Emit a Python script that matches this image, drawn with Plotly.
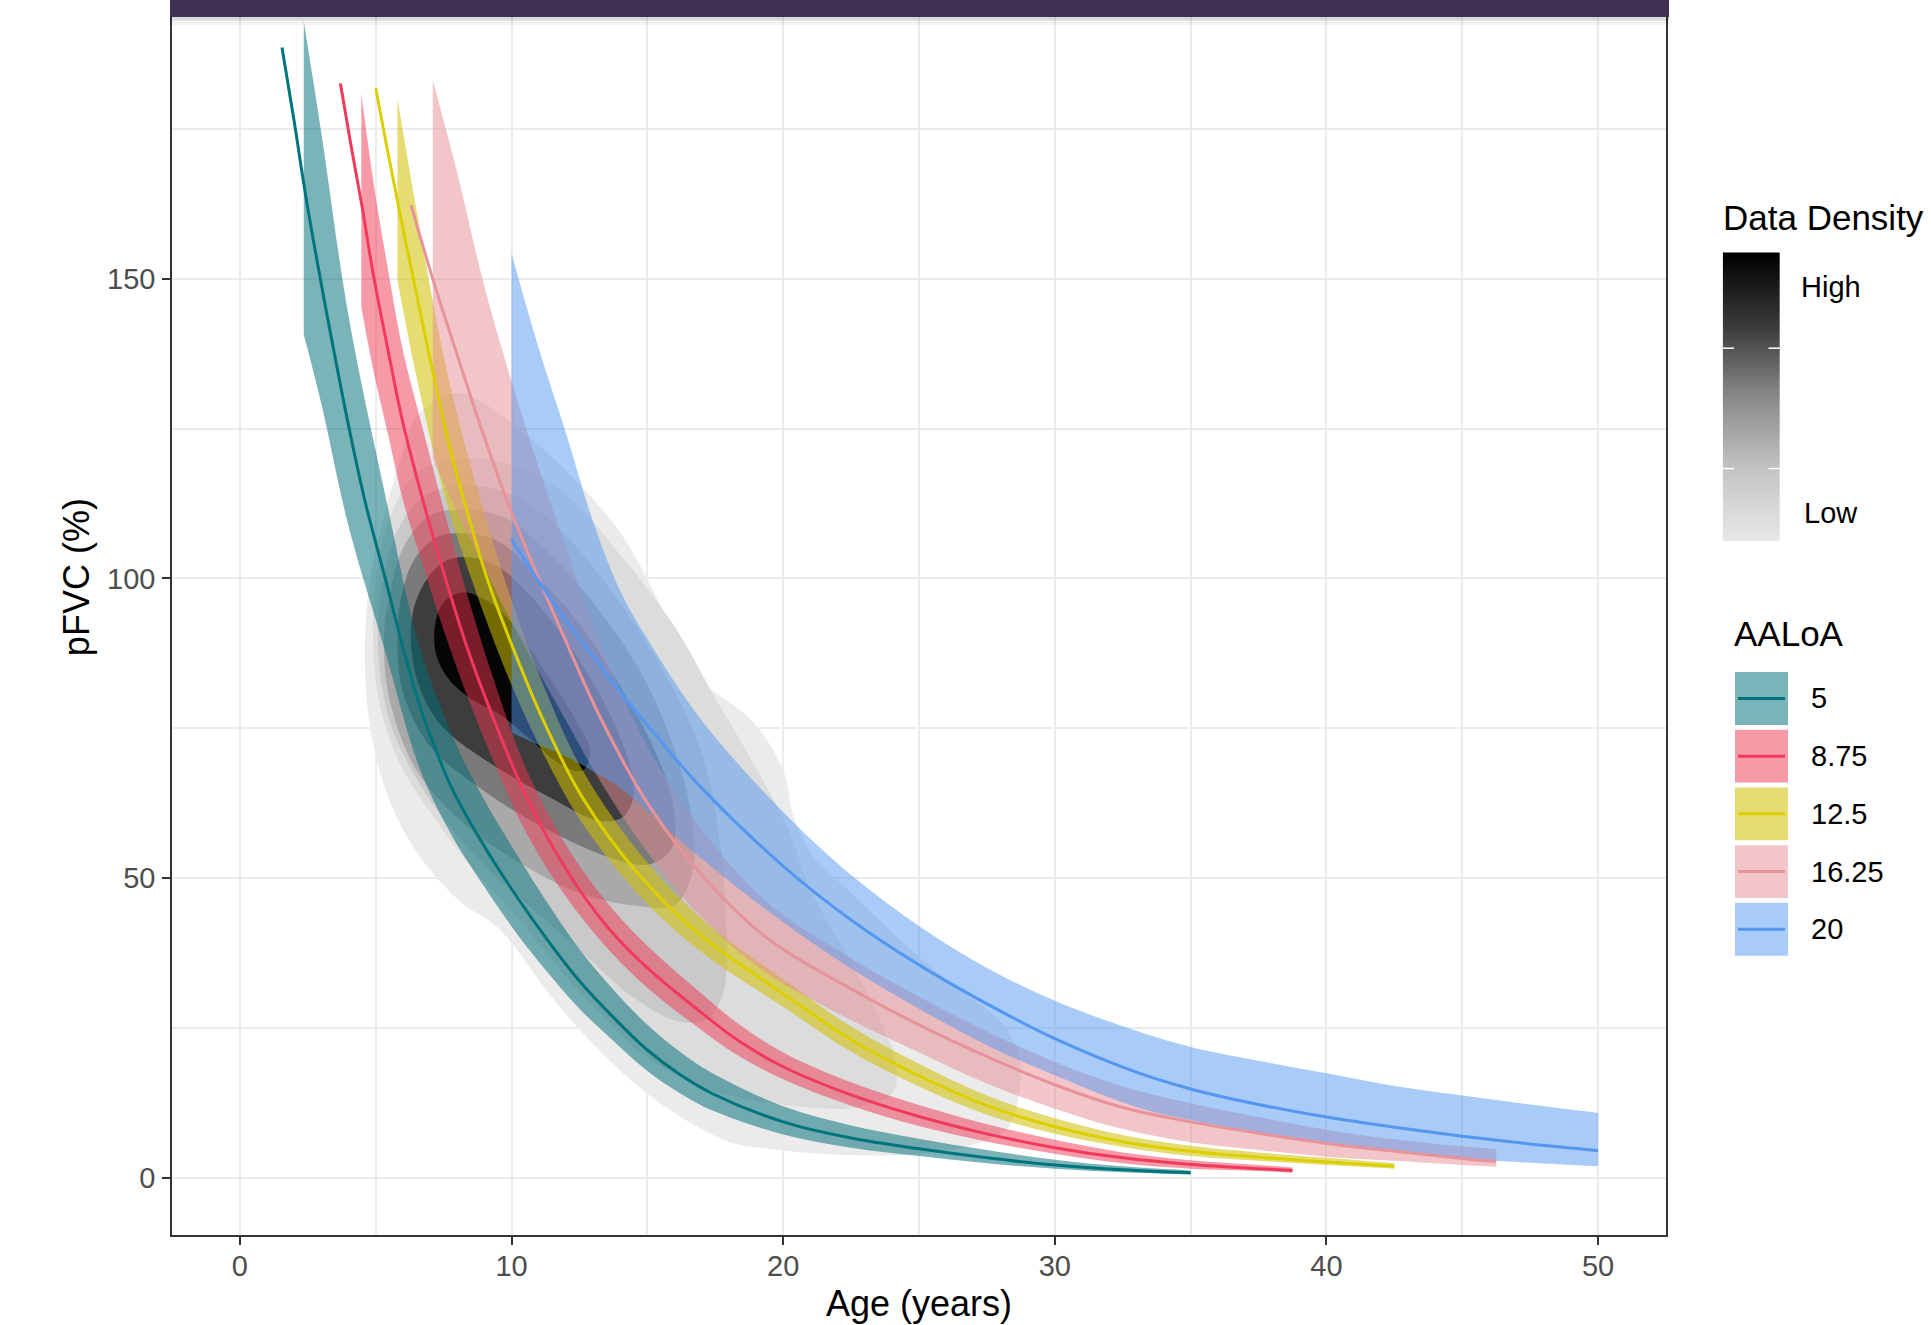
import plotly.graph_objects as go

# ---------------- data ----------------
aaloa_labels = ["5", "8.75", "12.5", "16.25", "20"]

# fitted pFVC lines (Age in years, pFVC in %)
teal_line_x = [1.55, 2.0, 2.4, 2.9, 3.5, 4.0, 4.6, 5.35, 6.0, 6.6, 7.2, 7.8, 8.9, 10.1, 11.3, 12.5, 13.8, 15.0, 16.2, 17.4, 20, 22.5, 25, 27.5, 30, 32.5, 35]
teal_line_y = [188.6, 176.2, 164.5, 151.5, 137, 125.5, 113, 100, 88.5, 79, 71.5, 65, 56, 47.5, 39.8, 32.8, 26.5, 21.3, 17.2, 14.0, 9.3, 6.6, 4.8, 3.3, 2.1, 1.3, 0.8]

red_line_x = [3.7, 4.1, 4.5, 4.9, 5.5, 6.0, 6.8, 7.5, 8.4, 9.3, 10.5, 12, 13.5, 15, 17, 18.4, 20, 22.5, 25, 27.5, 30, 32.5, 35, 37.5, 38.75]
red_line_y = [182.6, 172, 162, 151, 137, 126, 112, 101, 88, 77, 64, 51.5, 42, 35, 27.5, 22.7, 18.5, 13.8, 10.2, 7.3, 5.0, 3.3, 2.2, 1.5, 1.2]

yellow_line_x = [5.0, 5.43, 5.8, 6.11, 6.5, 7.1, 7.72, 8.5, 9.1, 10, 11.2, 12.6, 14.7, 17, 20, 22.5, 25, 27.5, 30, 32.5, 35, 37.5, 40, 42.5]
yellow_line_y = [181.8, 171.5, 163, 156, 147.5, 134.5, 122, 109, 100, 89, 76, 63.5, 50.5, 40.3, 30.7, 23, 17, 12, 8.5, 6.0, 4.4, 3.4, 2.6, 1.9]

pink_line_x = [6.3, 7.1, 8.0, 9.0, 10.0, 11.0, 12.0, 13.3, 15, 17.1, 19.4, 22.5, 25, 27.5, 30, 32.5, 35, 37.5, 40, 42.5, 45, 46.25]
pink_line_y = [162.3, 150, 137.3, 123.5, 111, 100, 89.5, 76.5, 62.5, 50, 40, 31.5, 25.5, 20.2, 15.5, 11.7, 9.3, 7.4, 5.7, 4.4, 3.2, 2.7]

blue_line_x = [10, 11, 12, 13, 14, 15, 17, 20, 22.5, 25, 27.5, 30, 33, 35, 37.5, 40, 42.5, 45, 47.5, 50]
blue_line_y = [106.5, 99.5, 93, 87, 81, 75.5, 65, 52, 43, 35.5, 29, 23.2, 17.6, 14.8, 12.2, 10.1, 8.4, 6.9, 5.6, 4.5]

# confidence ribbons
teal_rib_x = [2.35, 3.0, 4.0, 5.35, 6.6, 7.8, 8.9, 10.1, 11.3, 12.5, 13.8, 15.0, 16.2, 17.4, 20, 22.5, 25, 27.5, 30, 32.5, 35]
teal_rib_lo = [140.7, 129.1, 108.7, 87.8, 68.5, 57.1, 49.2, 41.3, 34.4, 28.2, 22.6, 17.8, 14.1, 11.2, 7.2, 5.0, 3.6, 2.4, 1.5, 0.9, 0.5]
teal_rib_hi = [193.0, 174.3, 143.8, 113.9, 88.8, 74.0, 63.8, 54.6, 46.0, 38.1, 31.1, 25.5, 21.0, 17.4, 11.9, 8.7, 6.5, 4.6, 3.0, 1.9, 1.2]

red_rib_x = [4.47, 4.9, 5.5, 6.0, 6.8, 7.5, 8.4, 9.3, 10.5, 12, 13.5, 15, 17, 18.4, 20, 22.5, 25, 27.5, 30, 32.5, 35, 37.5, 38.75]
red_rib_lo = [145.3, 135.0, 123.1, 113.1, 101.3, 91.4, 80.0, 69.9, 57.9, 46.9, 38.4, 31.7, 24.6, 20.2, 16.4, 12.0, 8.6, 6.0, 4.0, 2.4, 1.5, 1.1, 0.8]
red_rib_hi = [181.0, 166.6, 150.3, 138.1, 123.8, 111.6, 96.8, 83.7, 68.6, 55.5, 46.0, 38.7, 30.7, 25.5, 20.9, 15.9, 12.1, 8.9, 6.3, 4.2, 2.9, 2.1, 1.7]

yellow_rib_x = [5.8, 6.5, 7.5, 8.5, 10, 11.2, 12.6, 14.7, 17, 20, 22.5, 25, 27.5, 30, 32.5, 35, 37.5, 40, 42.5]
yellow_rib_lo = [149.7, 133.6, 114.5, 100.2, 82.2, 70.5, 59.2, 47.1, 37.6, 28.5, 21.0, 15.2, 10.5, 7.3, 5.1, 3.6, 2.8, 2.1, 1.5]
yellow_rib_hi = [180.1, 161.5, 137.1, 118.7, 96.4, 81.9, 68.1, 54.2, 43.2, 33.1, 25.2, 19.0, 13.7, 9.9, 7.1, 5.3, 4.2, 3.3, 2.4]

pink_rib_x = [7.1, 8, 9, 10, 11, 12, 13.3, 15, 17.1, 19.4, 22.5, 25, 27.5, 30, 32.5, 35, 37.5, 40, 42.5, 45, 46.25]
pink_rib_lo = [120.0, 111.0, 101.7, 92.7, 84.4, 76.3, 65.9, 54.3, 43.0, 34.1, 26.3, 20.9, 15.7, 11.5, 8.1, 5.9, 4.6, 3.5, 2.8, 2.1, 1.8]
pink_rib_hi = [183.2, 167.7, 148.7, 132.9, 118.5, 105.1, 88.9, 71.9, 57.5, 46.0, 36.6, 30.2, 24.4, 19.3, 15.2, 12.4, 10.1, 8.0, 6.4, 5.2, 4.8]

blue_rib_x = [10, 11, 12, 13, 14, 15, 17, 20, 22.5, 25, 27.5, 30, 33, 35, 37.5, 40, 42.5, 45, 47.5, 50]
blue_rib_lo = [74.3, 72.2, 70.3, 67.8, 65.0, 61.2, 53.2, 42.6, 34.9, 28.2, 22.1, 17.1, 11.8, 9.6, 7.4, 5.7, 4.3, 3.2, 2.5, 1.9]
blue_rib_hi = [154.2, 138.4, 124.3, 109.5, 97.9, 89.9, 76.3, 61.0, 50.5, 42.0, 35.0, 29.5, 24.5, 21.8, 19.5, 17.4, 15.3, 13.7, 12.2, 10.8]

# data-density contour bands (outer -> inner)
dens1_x = [6.5, 8.0, 10, 12, 14.1, 16.2, 17, 18.9, 20, 20.4, 21.2, 22.4, 24, 26, 28, 28.7, 28.6, 28.2, 27, 25, 22, 19.5, 18, 15.6, 13.5, 11.5, 9.5, 8.1, 6.5, 5.5, 4.8, 4.6, 4.8, 5.4, 6.0]
dens1_y = [127, 131, 126, 118, 107, 89, 83, 76, 68, 60, 53, 48, 41, 33, 26, 20, 12, 8, 5.5, 4, 3.8, 4.8, 6, 12, 20, 30, 41.7, 46.1, 54.4, 63, 75, 88, 100, 112, 121]
dens2_x = [5.0, 5.5, 6.5, 8, 10, 12, 14, 16, 17.5, 18.8, 20.2, 21, 22.5, 23.7, 24.2, 24, 23, 22, 19.5, 17.4, 15, 12.5, 10.1, 8.5, 7, 5.8, 5.1, 4.9]
dens2_y = [100, 110, 117.5, 120, 119, 114, 104, 92, 80, 70, 58, 48, 36, 25, 18, 14, 12, 11.5, 12.5, 14.5, 20, 31, 44, 52, 61, 70, 80, 90]
dens3_x = [5.2, 5.7, 6.7, 8.2, 10, 11.6, 13.5, 15.4, 17, 17.7, 17.9, 17.8, 17.2, 16.2, 14.5, 12.5, 10.5, 8.6, 7, 5.6, 5.1]
dens3_y = [98, 107, 113.5, 115.5, 114, 109, 99, 86, 71, 55, 42, 31, 26.5, 26, 30, 38, 46, 54, 63, 75, 87]
dens4_x = [5.5, 6.0, 7.0, 8.3, 9.8, 11.2, 13, 14.8, 16.1, 16.7, 16.6, 16.0, 14.5, 12.5, 10.5, 8.4, 6.5, 5.5, 5.3]
dens4_y = [97, 105, 110.5, 111.5, 110, 105, 96, 84, 70, 58, 50, 45.5, 45.4, 47.5, 52, 58.5, 68, 80, 90]
dens5_x = [5.9, 6.4, 7.3, 8.4, 9.6, 10.8, 12.4, 14.0, 15.4, 16.0, 15.9, 15.1, 13.9, 11.4, 9.0, 7.0, 6.0, 5.8]
dens5_y = [96, 103, 107, 107.5, 106, 101, 93, 82, 70, 61, 55, 52.3, 53, 57.9, 64.5, 72, 81, 89]
dens6_x = [6.4, 6.9, 7.6, 8.5, 9.5, 10.5, 11.8, 13.2, 14.2, 14.5, 14.1, 13.2, 11.4, 9.0, 7.4, 6.6, 6.3]
dens6_y = [95, 100, 103, 103.5, 102, 98, 91, 81, 71, 64, 60.2, 59.6, 63.5, 69.8, 75.5, 82, 89]
dens7_x = [7.2, 7.5, 8.2, 9.0, 9.8, 11.1, 12.4, 12.9, 12.6, 11.8, 10.7, 9.6, 8.4, 7.6, 7.2]
dens7_y = [92.6, 96.0, 97.7, 96.5, 93.6, 85.4, 76.1, 71.0, 67.9, 69.0, 73.1, 77.2, 80.2, 83.7, 87.8]

x_ticks = [0, 10, 20, 30, 40, 50]
y_ticks = [0, 50, 100, 150]

# ---------------- styling ----------------
W, H = 1931, 1325
FONT = "Liberation Sans, Arial, Helvetica, sans-serif"
line_colors = ["#00747c", "#f03a5c", "#dccf00", "#e8939a", "#5597f0"]
ribbon_colors = ["rgba(0,111,121,0.52)", "rgba(239,53,81,0.5)", "rgba(207,193,0,0.55)",
                 "rgba(229,139,145,0.5)", "rgba(83,151,239,0.5)"]
dens_colors = ["#ebebeb", "#dcdcdc", "#c9c9c9", "#a9a9a9", "#7a7a7a", "#3d3d3d", "#050505"]


def pxx(px):
    return px / W


def pxy(py):
    return 1 - py / H


fig = go.Figure()

# density bands
dens_sets = [(dens1_x, dens1_y), (dens2_x, dens2_y), (dens3_x, dens3_y), (dens4_x, dens4_y),
             (dens5_x, dens5_y), (dens6_x, dens6_y), (dens7_x, dens7_y)]
for (dx, dy), col in zip(dens_sets, dens_colors):
    fig.add_trace(go.Scatter(x=dx + dx[:1], y=dy + dy[:1], mode="lines", fill="toself",
                             fillcolor=col, line=dict(width=0, shape="spline", smoothing=1.0),
                             hoverinfo="skip", showlegend=False))

# ribbons
ribbons = [(teal_rib_x, teal_rib_lo, teal_rib_hi), (red_rib_x, red_rib_lo, red_rib_hi),
           (yellow_rib_x, yellow_rib_lo, yellow_rib_hi), (pink_rib_x, pink_rib_lo, pink_rib_hi),
           (blue_rib_x, blue_rib_lo, blue_rib_hi)]
for (rx, lo, hi), col in zip(ribbons, ribbon_colors):
    fig.add_trace(go.Scatter(x=rx, y=lo, mode="lines", line=dict(width=0, shape="spline"),
                             hoverinfo="skip", showlegend=False))
    fig.add_trace(go.Scatter(x=rx, y=hi, mode="lines", fill="tonexty", fillcolor=col,
                             line=dict(width=0, shape="spline"), hoverinfo="skip", showlegend=False))

# lines
lines = [(teal_line_x, teal_line_y), (red_line_x, red_line_y), (yellow_line_x, yellow_line_y),
         (pink_line_x, pink_line_y), (blue_line_x, blue_line_y)]
for (lx, ly), col, name in zip(lines, line_colors, aaloa_labels):
    fig.add_trace(go.Scatter(x=lx, y=ly, mode="lines", name=name,
                             line=dict(color=col, width=3.0, shape="spline"), showlegend=False))

# density colour bar (legend gradient) on its own small axes
fig.add_trace(go.Heatmap(z=[[0, 0], [1, 1]], x=[0, 1], y=[0, 1], zsmooth="best",
                         colorscale=[[0, "#e9e9e9"], [0.25, "#c4c4c4"], [0.5, "#8a8a8a"],
                                     [0.75, "#3a3a3a"], [1, "#000000"]],
                         showscale=False, hoverinfo="skip", xaxis="x2", yaxis="y2"))

shapes = []
annotations = []

# title banner at the top
shapes.append(dict(type="rect", xref="paper", yref="paper", x0=pxx(170), x1=pxx(1669),
                   y0=pxy(23), y1=pxy(15), fillcolor="rgba(0,0,0,0.05)", line=dict(width=0), layer="above"))
shapes.append(dict(type="rect", xref="paper", yref="paper", x0=pxx(170), x1=pxx(1669),
                   y0=pxy(18.5), y1=pxy(15), fillcolor="rgba(0,0,0,0.10)", line=dict(width=0), layer="above"))
shapes.append(dict(type="rect", xref="paper", yref="paper", x0=pxx(170), x1=pxx(1669),
                   y0=pxy(15), y1=pxy(-2), fillcolor="#3f3152", line=dict(width=0), layer="above"))

# colour bar white ticks
for ty in (346.7, 467.3):
    for (a, b) in ((1722.7, 1734), (1768.5, 1780)):
        shapes.append(dict(type="line", xref="paper", yref="paper", x0=pxx(a), x1=pxx(b),
                           y0=pxy(ty), y1=pxy(ty), line=dict(color="white", width=1.5), layer="above"))

annotations.append(dict(text="Data Density", x=pxx(1721), y=pxy(216), xref="paper", yref="paper",
                        xanchor="left", yanchor="middle", showarrow=False,
                        font=dict(family=FONT, size=35, color="black")))
annotations.append(dict(text="High", x=pxx(1799), y=pxy(285), xref="paper", yref="paper",
                        xanchor="left", yanchor="middle", showarrow=False,
                        font=dict(family=FONT, size=29, color="black")))
annotations.append(dict(text="Low", x=pxx(1802), y=pxy(512), xref="paper", yref="paper",
                        xanchor="left", yanchor="middle", showarrow=False,
                        font=dict(family=FONT, size=29, color="black")))

# AALoA legend
annotations.append(dict(text="AALoA", x=pxx(1732), y=pxy(632), xref="paper", yref="paper",
                        xanchor="left", yanchor="middle", showarrow=False,
                        font=dict(family=FONT, size=35, color="black")))
key_top, key_step, key_size = 671, 57.8, 53
for i, (name, lc, rc) in enumerate(zip(aaloa_labels, line_colors, ribbon_colors)):
    t = key_top + i * key_step
    shapes.append(dict(type="rect", xref="paper", yref="paper", x0=pxx(1735), x1=pxx(1735 + key_size),
                       y0=pxy(t + key_size), y1=pxy(t), fillcolor=rc, line=dict(width=0), layer="above"))
    cy = t + key_size / 2
    shapes.append(dict(type="line", xref="paper", yref="paper", x0=pxx(1738), x1=pxx(1785),
                       y0=pxy(cy), y1=pxy(cy), line=dict(color=lc, width=3), layer="above"))
    annotations.append(dict(text=name, x=pxx(1809), y=pxy(cy), xref="paper", yref="paper",
                            xanchor="left", yanchor="middle", showarrow=False,
                            font=dict(family=FONT, size=29, color="black")))

# axis titles
annotations.append(dict(text="Age (years)", x=pxx(919), y=pxy(1303), xref="paper", yref="paper",
                        xanchor="center", yanchor="middle", showarrow=False,
                        font=dict(family=FONT, size=36, color="black")))
annotations.append(dict(text="pFVC (%)", x=pxx(76), y=pxy(576), xref="paper", yref="paper",
                        xanchor="center", yanchor="middle", showarrow=False, textangle=-90,
                        font=dict(family=FONT, size=36, color="black")))

axis_common = dict(showline=True, mirror=True, linecolor="#333333", linewidth=1.6,
                   ticks="outside", ticklen=8, tickwidth=1.6, tickcolor="#333333",
                   showgrid=True, gridcolor="#ebebeb", gridwidth=2.2, zeroline=False,
                   tickfont=dict(family=FONT, size=29, color="#4d4d4d"))

fig.update_layout(
    width=W, height=H, autosize=False,
    margin=dict(l=0, r=0, t=0, b=0),
    paper_bgcolor="white", plot_bgcolor="white",
    showlegend=False,
    xaxis=dict(domain=[172 / W, 1666 / W], range=[-2.5, 52.5], tickvals=x_ticks,
               minor=dict(dtick=5, tick0=0, showgrid=True, gridcolor="#ebebeb", gridwidth=1.6, ticks=""),
               ticklabelstandoff=-4, **axis_common),
    yaxis=dict(domain=[1 - 1235 / H, 1], range=[-9.6, 196.2], tickvals=y_ticks,
               minor=dict(dtick=25, tick0=0, showgrid=True, gridcolor="#ebebeb", gridwidth=1.6, ticks=""),
               ticklabelstandoff=1, **axis_common),
    xaxis2=dict(domain=[1722.7 / W, 1780 / W], range=[0, 1], visible=False, anchor="y2"),
    yaxis2=dict(domain=[1 - 540 / H, 1 - 250.7 / H], range=[0, 1], visible=False, anchor="x2"),
    shapes=shapes,
    annotations=annotations,
)

fig.write_html("out.html",
               config={"displayModeBar": False},
               post_script="document.body.style.margin='0';document.body.style.padding='0';"
                           "document.documentElement.style.overflow='hidden';")
